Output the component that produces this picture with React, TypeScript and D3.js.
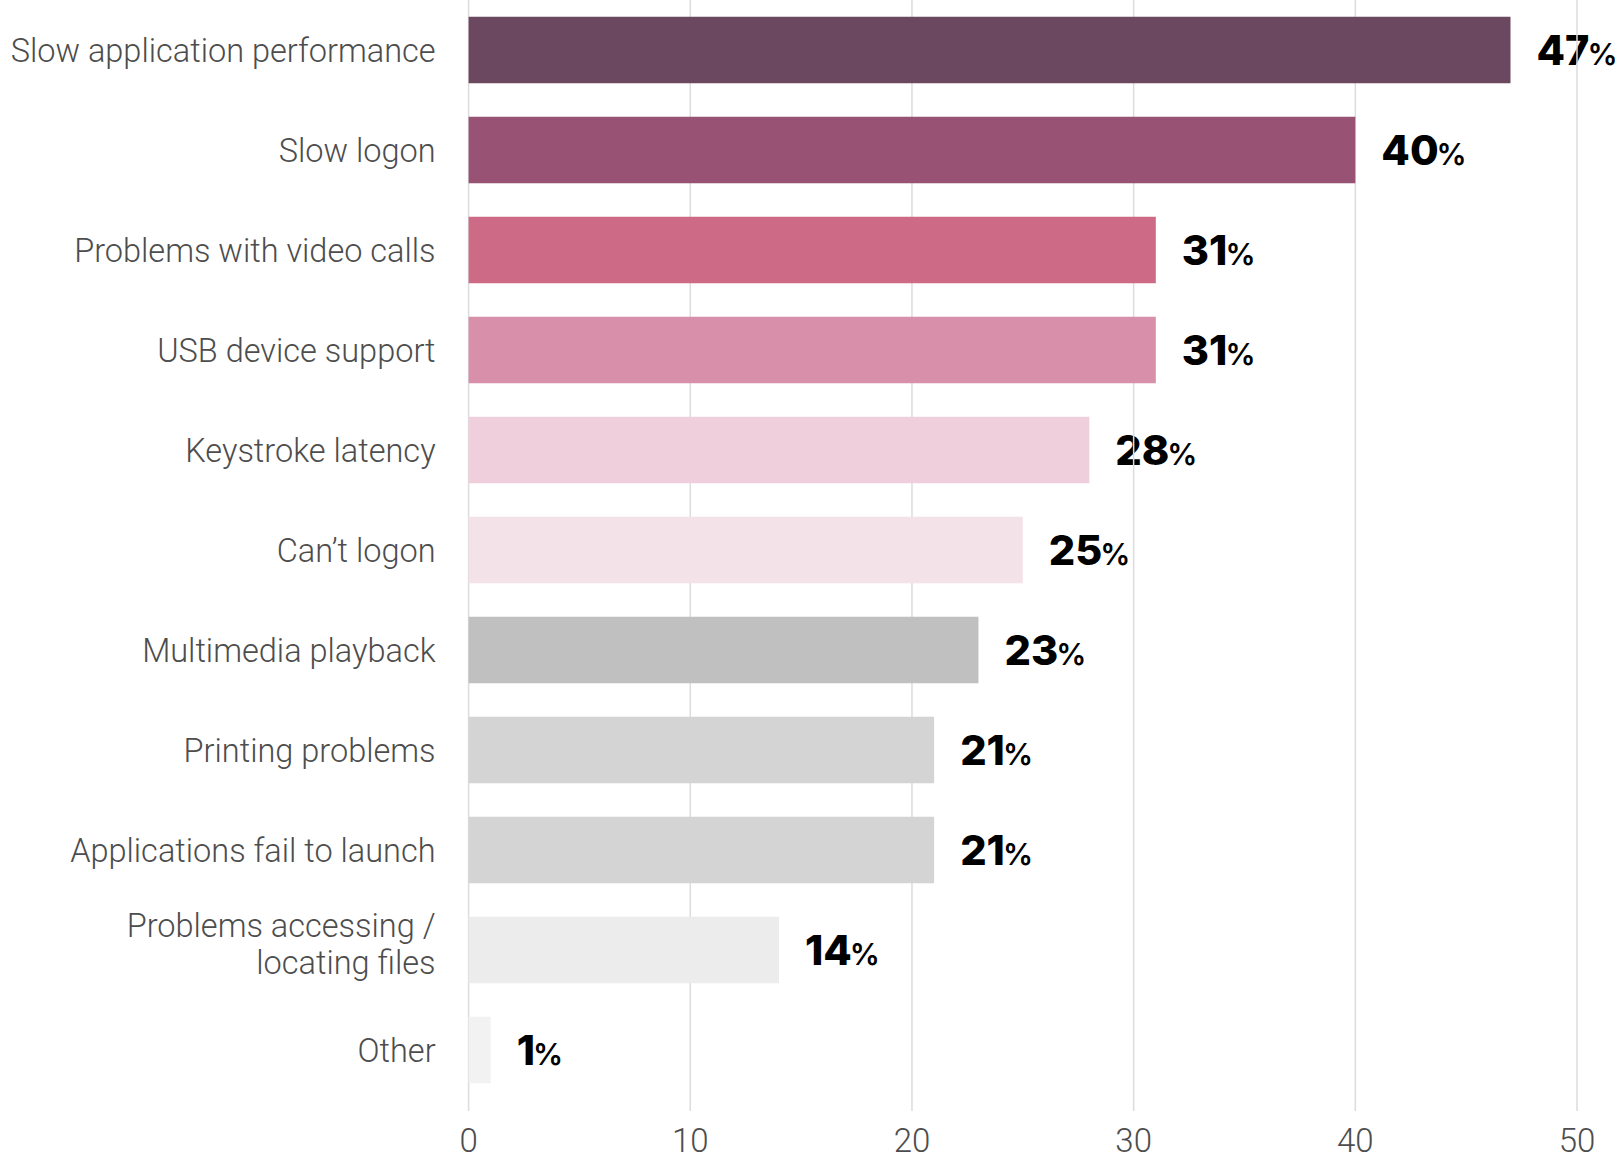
import React from "react";
import * as d3 from "d3";

const categories = [
  "Slow application performance",
  "Slow logon",
  "Problems with video calls",
  "USB device support",
  "Keystroke latency",
  "Can’t logon",
  "Multimedia playback",
  "Printing problems",
  "Applications fail to launch",
  "Problems accessing /\nlocating files",
  "Other",
];
const values = [47, 40, 31, 31, 28, 25, 23, 21, 21, 14, 1];
const barColors = [
  "#6b4860",
  "#985273",
  "#cd6a85",
  "#d78faa",
  "#efcfdc",
  "#f4e2e9",
  "#c0c0c0",
  "#d4d4d4",
  "#d4d4d4",
  "#ececec",
  "#f2f2f2",
];
const xTicks = [0, 10, 20, 30, 40, 50];

const W = 1619;
const H = 1159;

export default function App() {
  const x = d3.scaleLinear().domain([0, 50]).range([468.6, 1577]);
  const y = d3
    .scaleBand<number>()
    .domain(d3.range(categories.length))
    .range([0, 1100])
    .paddingInner(0.335)
    .paddingOuter(0.1675);
  const bw = y.bandwidth();
  const labelFont = "Roboto, 'Noto Sans', sans-serif";
  const valueFont = "Inter, Roboto, sans-serif";
  const catSize = 32.5;
  const capHalf = catSize * 0.711 * 0.5;
  const labelX = x(0) - 33;

  return (
    <svg
      width={W}
      height={H}
      style={{ position: "absolute", left: 0, top: 0, display: "block", background: "#fff" }}
    >
      {/* category labels */}
      <g>
        {categories.map((c, i) => {
          const cy = (y(i) as number) + bw / 2;
          const lines = c.split("\n");
          return (
            <text
              key={c}
              x={labelX}
              textAnchor="end"
              fontFamily={labelFont}
              fontWeight={300}
              fontSize={catSize}
              fill="#4d4d4d"
            >
              {lines.length === 1 ? (
                <tspan x={labelX} y={cy + capHalf}>
                  {c}
                </tspan>
              ) : (
                lines.map((l, k) => (
                  <tspan key={k} x={labelX} y={cy - 13 + k * 37}>
                    {l}
                  </tspan>
                ))
              )}
            </text>
          );
        })}
      </g>
      {/* value labels */}
      <g>
        {values.map((v, i) => {
          const cy = (y(i) as number) + bw / 2;
          return (
            <text
              key={i}
              x={x(v) + 26}
              y={cy + 15}
              fontFamily={valueFont}
              fontWeight={800}
              fontSize={41.5}
              fill="#000"
            >
              {v}
              <tspan fontSize={30} fontWeight={600} dx={-2}>
                %
              </tspan>
            </text>
          );
        })}
      </g>
      {/* gridlines */}
      <g>
        {xTicks.map((t) => (
          <line
            key={t}
            x1={x(t)}
            x2={x(t)}
            y1={0}
            y2={1111}
            stroke="#dcdcdc"
            strokeWidth={1.5}
          />
        ))}
      </g>
      {/* bars */}
      <g>
        {values.map((v, i) => (
          <rect
            key={i}
            x={x(0)}
            y={y(i)}
            width={x(v) - x(0)}
            height={bw}
            fill={barColors[i]}
          />
        ))}
      </g>
      {/* tick labels */}
      <g>
        {xTicks.map((t) => (
          <text
            key={t}
            x={x(t)}
            y={1152}
            textAnchor="middle"
            fontFamily={labelFont}
            fontWeight={300}
            fontSize={33}
            fill="#4d4d4d"
          >
            {t}
          </text>
        ))}
      </g>
    </svg>
  );
}
